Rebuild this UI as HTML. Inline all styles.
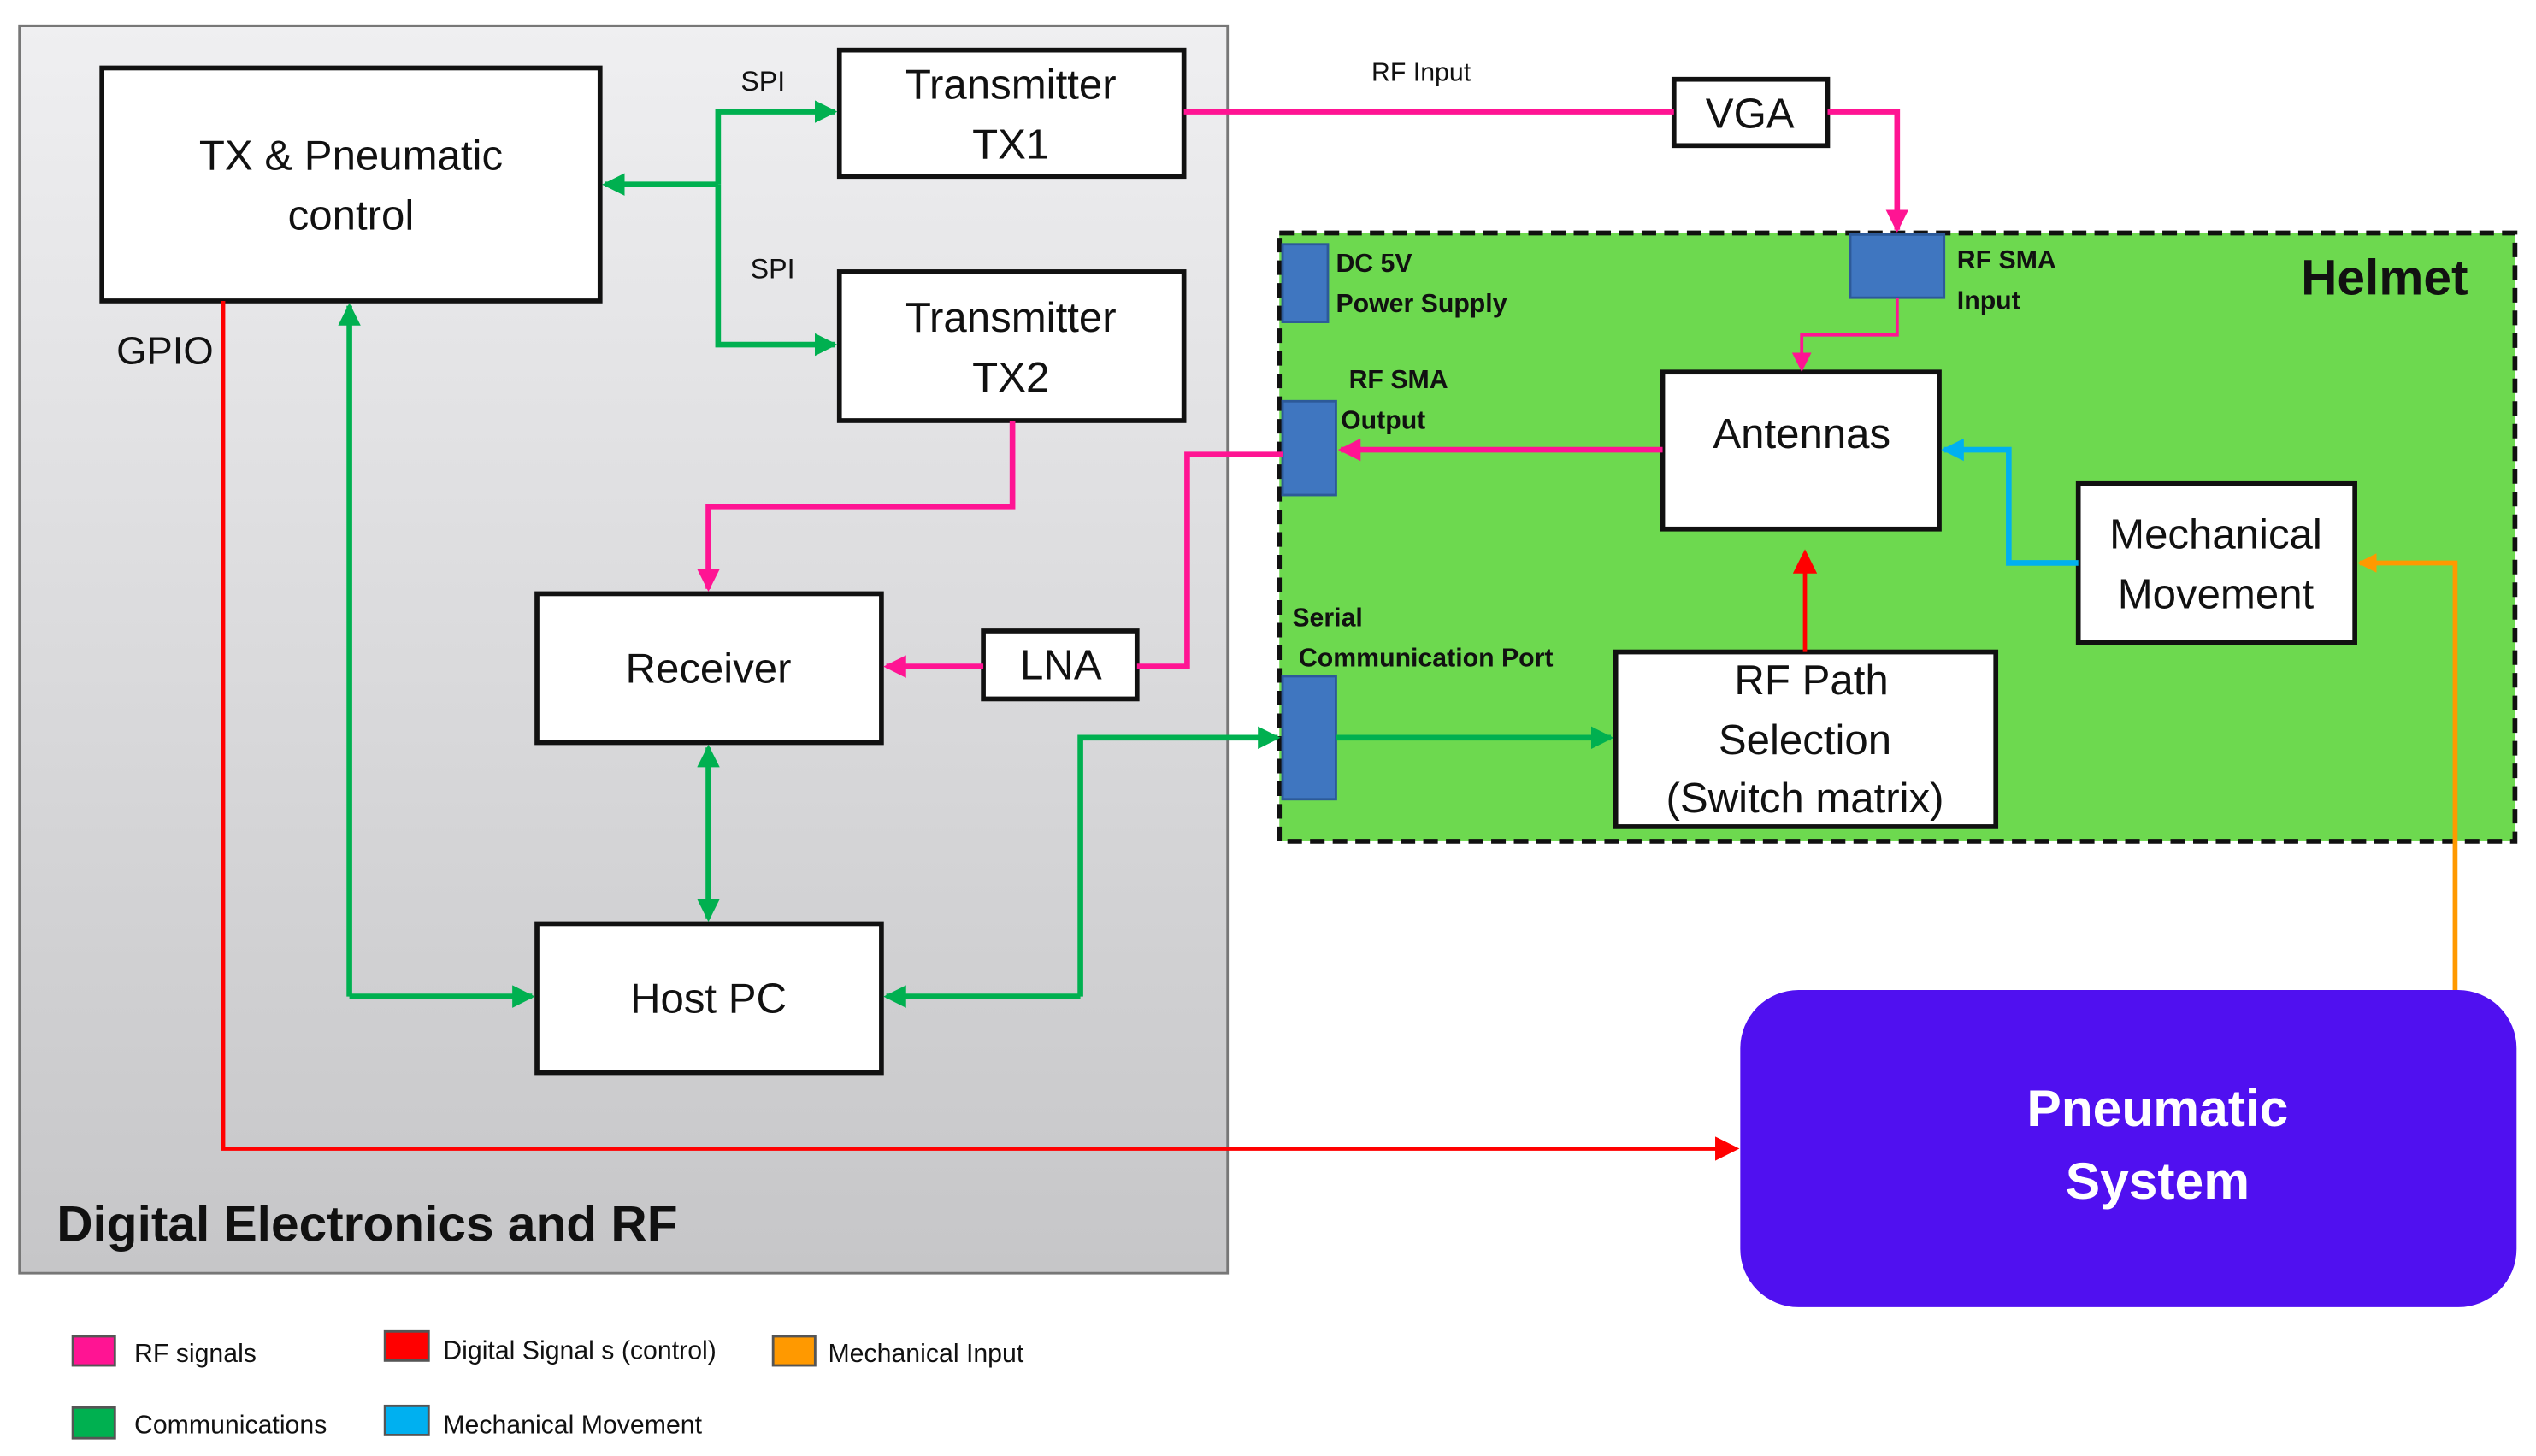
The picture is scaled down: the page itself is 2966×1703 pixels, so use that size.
<!DOCTYPE html>
<html><head><meta charset="utf-8"><style>
html,body{margin:0;padding:0;background:#fff;width:2966px;height:1703px;overflow:hidden}
svg{display:block}
text{font-family:"Liberation Sans",sans-serif;fill:#111}
</style></head><body>
<svg width="2966" height="1703" viewBox="0 0 1568 900" preserveAspectRatio="none">
<defs>
<linearGradient id="g" x1="0" y1="0" x2="0" y2="1"><stop offset="0" stop-color="#efeff1"/><stop offset="1" stop-color="#c6c6c8"/></linearGradient>
<marker id="ag" markerWidth="4" markerHeight="4" refX="3.5" refY="2" orient="auto" markerUnits="strokeWidth"><path d="M0,0L4,2L0,4z" fill="#00b050"/></marker>
<marker id="ap" markerWidth="4" markerHeight="4" refX="3.5" refY="2" orient="auto" markerUnits="strokeWidth"><path d="M0,0L4,2L0,4z" fill="#ff1493"/></marker>
<marker id="ap2" markerWidth="6" markerHeight="6" refX="5" refY="3" orient="auto" markerUnits="strokeWidth"><path d="M0,0L6,3L0,6z" fill="#ff1493"/></marker>
<marker id="ar" markerWidth="6" markerHeight="6" refX="5" refY="3" orient="auto" markerUnits="strokeWidth"><path d="M0,0L6,3L0,6z" fill="#ff0000"/></marker>
<marker id="ab" markerWidth="4" markerHeight="4" refX="3.5" refY="2" orient="auto" markerUnits="strokeWidth"><path d="M0,0L4,2L0,4z" fill="#00b0f0"/></marker>
<marker id="ao" markerWidth="4" markerHeight="4" refX="3.5" refY="2" orient="auto" markerUnits="strokeWidth"><path d="M0,0L4,2L0,4z" fill="#ff9900"/></marker>
</defs>
<rect x="12" y="16" width="747" height="771" fill="url(#g)" stroke="#777" stroke-width="1.5"/>
<rect x="791" y="144" width="764" height="376" fill="#6dd94f" stroke="#111" stroke-width="3" stroke-dasharray="9,5"/>
<rect x="1076" y="612" width="480" height="196" rx="36" fill="#5010f0"/>
<g fill="#3f76c0" stroke="#2d5a99" stroke-width="1.5">
<rect x="793" y="151" width="28" height="48"/><rect x="1144" y="145" width="58" height="39"/>
<rect x="793" y="248" width="33" height="58"/><rect x="793" y="418" width="33" height="76"/>
</g>
<g fill="#fff" stroke="#111" stroke-width="3">
<rect x="63" y="42" width="308" height="144"/><rect x="519" y="31" width="213" height="78"/>
<rect x="519" y="168" width="213" height="92"/><rect x="332" y="367" width="213" height="92"/>
<rect x="332" y="571" width="213" height="92"/><rect x="608" y="390" width="95" height="42"/>
<rect x="1035" y="49" width="95" height="41"/><rect x="1028" y="230" width="171" height="97"/>
<rect x="1285" y="299" width="171" height="98"/><rect x="999" y="403" width="235" height="108"/>
</g>
<g fill="none" stroke="#00b050" stroke-width="3.5">
<path d="M444,114H374" marker-end="url(#ag)"/><path d="M444,114V69H516" marker-end="url(#ag)"/><path d="M444,114V213H516" marker-end="url(#ag)"/>
<path d="M216,616V189" marker-end="url(#ag)"/><path d="M216,616H329" marker-end="url(#ag)"/>
<path d="M438,515V462" marker-end="url(#ag)"/><path d="M438,515V568" marker-end="url(#ag)"/>
<path d="M668,616H548" marker-end="url(#ag)"/><path d="M668,616V456H790" marker-end="url(#ag)"/>
<path d="M826,456H996" marker-end="url(#ag)"/>
</g>
<g fill="none" stroke="#ff1493" stroke-width="3.5">
<path d="M732,69H1035"/><path d="M1130,69H1173V142" marker-end="url(#ap)"/>
<path d="M1028,278H829" marker-end="url(#ap)"/>
<path d="M793,281H734V412H703"/><path d="M608,412H548" marker-end="url(#ap)"/>
<path d="M626,260V313H438V364" marker-end="url(#ap)"/>
</g>
<path d="M1173,184V207H1114V228" fill="none" stroke="#ff1493" stroke-width="2" marker-end="url(#ap2)"/>
<path d="M138,186V710H1073" fill="none" stroke="#ff0000" stroke-width="2.5" marker-end="url(#ar)"/>
<path d="M1116,403V342" fill="none" stroke="#ff0000" stroke-width="2.5" marker-end="url(#ar)"/>
<path d="M1285,348H1242V278H1202" fill="none" stroke="#00b0f0" stroke-width="3.5" marker-end="url(#ab)"/>
<path d="M1518,612V348H1459" fill="none" stroke="#ff9900" stroke-width="3" marker-end="url(#ao)"/>
<g font-size="26" text-anchor="middle">
<text x="217" y="105">TX &amp; Pneumatic</text><text x="217" y="142">control</text>
<text x="625" y="61">Transmitter</text><text x="625" y="98">TX1</text>
<text x="625" y="205">Transmitter</text><text x="625" y="242">TX2</text>
<text x="438" y="422">Receiver</text><text x="438" y="626">Host PC</text>
<text x="656" y="420">LNA</text><text x="1082" y="79">VGA</text>
<text x="1114" y="277">Antennas</text>
<text x="1370" y="339">Mechanical</text><text x="1370" y="376">Movement</text>
<text x="1120" y="429">RF Path</text><text x="1116" y="466">Selection</text><text x="1116" y="502">(Switch  matrix)</text>
</g>
<text x="72" y="225" font-size="24">GPIO</text>
<text x="458" y="56" font-size="17">SPI</text><text x="464" y="172" font-size="17">SPI</text>
<text x="848" y="50" font-size="16">RF Input</text>
<g font-size="16" font-weight="bold">
<text x="826" y="168">DC 5V</text><text x="826" y="193">Power Supply</text>
<text x="1210" y="166">RF SMA</text><text x="1210" y="191">Input</text>
<text x="834" y="240">RF SMA</text><text x="829" y="265">Output</text>
<text x="799" y="387">Serial</text><text x="803" y="412">Communication Port</text>
</g>
<text x="1526" y="182" font-size="31" font-weight="bold" text-anchor="end">Helmet</text>
<text x="35" y="767" font-size="31" font-weight="bold">Digital Electronics and RF</text>
<g font-size="32" font-weight="bold" text-anchor="middle" style="fill:#fff">
<text x="1334" y="696" style="fill:#fff">Pneumatic</text><text x="1334" y="741" style="fill:#fff">System</text>
</g>
<g stroke="#555" stroke-width="1.5">
<rect x="45" y="826" width="26" height="18" fill="#ff1493"/><rect x="238" y="823" width="27" height="18" fill="#ff0000"/>
<rect x="478" y="826" width="26" height="18" fill="#ff9900"/><rect x="45" y="870" width="26" height="19" fill="#00b050"/>
<rect x="238" y="869" width="27" height="18" fill="#00b0f0"/>
</g>
<g font-size="16" style="fill:#333">
<text x="83" y="842">RF signals</text><text x="274" y="840">Digital Signal s (control)</text>
<text x="512" y="842">Mechanical Input</text><text x="83" y="886">Communications</text>
<text x="274" y="886">Mechanical Movement</text>
</g>
</svg>
</body></html>
